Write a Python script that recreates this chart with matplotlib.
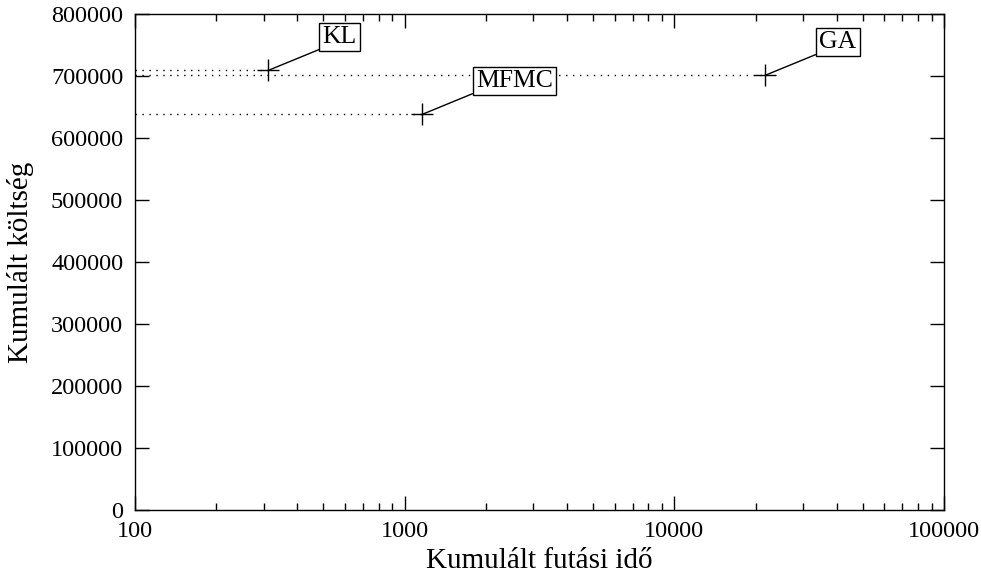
import numpy as np
import matplotlib.pyplot as plt

plt.rcParams['font.family'] = ['Liberation Serif', 'DejaVu Serif']

# data
names = ['KL', 'MFMC', 'GA']
run_time = [312, 1160, 21700]
cost = [709000, 638000, 701000]

x_ticks = [100, 1000, 10000, 100000]
y_ticks = list(range(0, 800001, 100000))

fig = plt.figure(figsize=(9.81, 5.75), dpi=100)
ax = fig.add_axes([0.1376, 0.113, 0.8247, 0.8627])

ax.set_xscale('log')
ax.set_xlim(100, 100000)
ax.set_ylim(0, 800000)

# dotted guide from the y axis to each point
for xv, yv in zip(run_time, cost):
    ax.plot([100, xv], [yv, yv], color='black', lw=1, ls=(0, (1, 4)))

ax.plot(run_time, cost, ls='none', marker='+', ms=16, mew=1, color='black')

for nm, xv, yv in zip(names, run_time, cost):
    ax.annotate(nm, xy=(xv, yv), xytext=(39, 16), textcoords='offset points',
                ha='left', va='bottom', fontsize=18.5,
                bbox=dict(boxstyle='square,pad=0.12', fc='white', ec='black', lw=1),
                arrowprops=dict(arrowstyle='-', color='black', lw=1,
                                relpos=(0, 0), shrinkA=0, shrinkB=0))

ax.set_xticks(x_ticks)
ax.set_xticklabels([str(t) for t in x_ticks])
ax.set_yticks(y_ticks)
ax.set_yticklabels([str(t) for t in y_ticks])

ax.tick_params(which='both', direction='in', top=True, right=True, labelsize=17.5)
ax.tick_params(which='major', length=10, width=1)
ax.tick_params(which='minor', length=5, width=1)
ax.tick_params(axis='x', which='major', pad=8)
ax.tick_params(axis='y', which='major', pad=8.5)

for s in ax.spines.values():
    s.set_linewidth(1)

ax.set_xlabel('Kumulált futási idő', fontsize=21, labelpad=4)
ax.set_ylabel('Kumulált költség', fontsize=21, labelpad=12)

fig.savefig('out.png', dpi=100)
